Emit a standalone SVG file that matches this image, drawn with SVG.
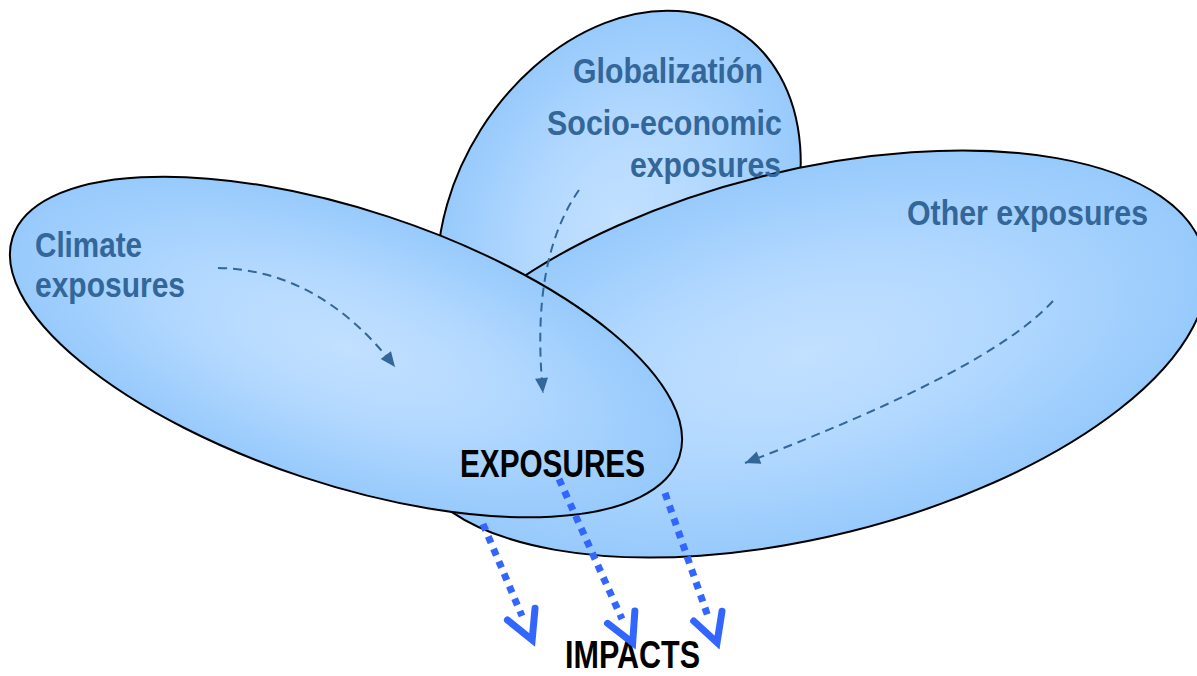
<svg xmlns="http://www.w3.org/2000/svg" width="1197" height="676" viewBox="0 0 1197 676">
  <style>
    .blob { stroke: #000; stroke-width: 2; fill: url(#blobFill); }
    .lbl { font-family: "Liberation Sans", Arial, sans-serif; font-weight: bold; font-size: 35px; fill: #336699; }
    .key { font-family: "Liberation Sans", Arial, sans-serif; font-weight: bold; font-size: 38px; fill: #000; }
    .flow { fill: none; stroke: #336699; stroke-width: 2; stroke-dasharray: 9 6; marker-end: url(#tri); }
    .impact { fill: none; stroke: #3366FF; stroke-width: 7; stroke-dasharray: 7 6.5; marker-end: url(#chev); }
  </style>
  <defs>
    <radialGradient id="blobFill" cx="0.5" cy="0.5" r="0.5">
      <stop offset="0" stop-color="#C2E0FF"/>
      <stop offset="0.45" stop-color="#B4D9FF"/>
      <stop offset="1" stop-color="#97CAFC"/>
    </radialGradient>
    <marker id="tri" markerUnits="userSpaceOnUse" orient="auto" refX="0" refY="0" markerWidth="1" markerHeight="1" overflow="visible">
      <path d="M0,0 L-15,-6.5 L-15,6.5 Z" fill="#336699"/>
    </marker>
    <marker id="chev" markerUnits="userSpaceOnUse" orient="auto" refX="-26" refY="0" markerWidth="1" markerHeight="1" overflow="visible">
      <path d="M-28,-15 L0,0 L-28,15" fill="none" stroke="#3366FF" stroke-width="7" stroke-linecap="round" stroke-linejoin="miter"/>
    </marker>
  </defs>

  <g id="node-globalization">
    <ellipse class="blob" cx="619" cy="217" rx="221" ry="163.5" transform="rotate(-57.75 619 217)"/>
  </g>
  <g id="node-other">
    <ellipse class="blob" cx="806" cy="354" rx="411" ry="183" transform="rotate(-14 806 354)"/>
  </g>
  <g id="node-climate">
    <ellipse class="blob" cx="346" cy="347" rx="351" ry="137" transform="rotate(18.25 346 347)"/>
  </g>

  <g id="labels">
    <text class="lbl" x="573" y="82.5" textLength="190" lengthAdjust="spacingAndGlyphs">Globalizatión</text>
    <text class="lbl" x="547" y="135" textLength="235" lengthAdjust="spacingAndGlyphs">Socio-economic</text>
    <text class="lbl" x="630" y="177" textLength="151" lengthAdjust="spacingAndGlyphs">exposures</text>
    <text class="lbl" x="35" y="256.5" textLength="107" lengthAdjust="spacingAndGlyphs">Climate</text>
    <text class="lbl" x="35" y="297" textLength="150" lengthAdjust="spacingAndGlyphs">exposures</text>
    <text class="lbl" x="907" y="225" textLength="241" lengthAdjust="spacingAndGlyphs">Other exposures</text>
    <text id="node-exposures" class="key" x="460" y="476.5" textLength="185" lengthAdjust="spacingAndGlyphs">EXPOSURES</text>
    <text id="node-impacts" class="key" x="565" y="668" font-size="36" textLength="135" lengthAdjust="spacingAndGlyphs">IMPACTS</text>
  </g>

  <g id="connectors">
    <path class="flow" d="M218,268 Q320,270 395,367"/>
    <path class="flow" d="M579,190 Q530,260 543,393"/>
    <path class="flow" d="M1053,301 Q990,370 745,463"/>
    <path class="impact" d="M483,524 L522,616"/>
    <path class="impact" d="M559,479 L622,619"/>
    <path class="impact" d="M665,493 L708.5,618"/>
  </g>
</svg>
